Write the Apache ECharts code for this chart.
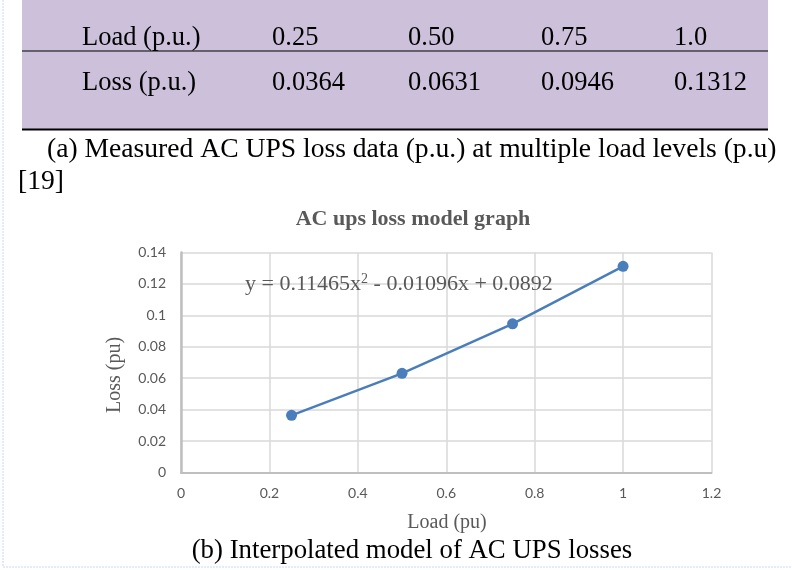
<!DOCTYPE html>
<html>
<head>
<meta charset="utf-8">
<script src="https://cdn.jsdelivr.net/npm/echarts@6/dist/echarts.min.js"></script>
<style>
html,body{margin:0;padding:0;background:#fff;}
#main{width:792px;height:570px;}
</style>
</head>
<body>
<div id="main"></div>
<script>
// ---- data ----
const loadLevels = [0.25, 0.50, 0.75, 1.0];
const lossValues = [0.0364, 0.0631, 0.0946, 0.1312];
const loadLabels = ['0.25', '0.50', '0.75', '1.0'];
const lossLabels = ['0.0364', '0.0631', '0.0946', '0.1312'];
const rowHeaders = ['Load (p.u.)', 'Loss (p.u.)'];
const xTicks = { min: 0, max: 1.2, interval: 0.2 };
const yTicks = { min: 0, max: 0.14, interval: 0.02 };
const chartTitle = 'AC ups loss model graph';
const equationParts = ['y = 0.11465x', '2', ' - 0.01096x + 0.0892'];
const captionA1 = '(a) Measured AC UPS loss data (p.u.) at multiple load levels (p.u)';
const captionA2 = '[19]';
const captionB = '(b) Interpolated model of AC UPS losses';
const xName = 'Load (pu)';
const yName = 'Loss (pu)';

const serif = '"Liberation Serif", "Times New Roman", serif';
const sans = 'Lato, "Liberation Sans", sans-serif';
const gray = '#595959';

const chart = echarts.init(document.getElementById('main'), null, {renderer: 'canvas'});

const colX = [272, 408, 541, 674];
const tf = '26.5px ' + serif;
const graphics = [];
// outer light frame
graphics.push({type:'line', shape:{x1:3,y1:0,x2:3,y2:567}, style:{stroke:'#c6d9f0', lineWidth:1, lineDash:[2,1]}, silent:true});
graphics.push({type:'line', shape:{x1:3,y1:567,x2:792,y2:567}, style:{stroke:'#c6d9f0', lineWidth:1, lineDash:[2,1]}, silent:true});
// table background
graphics.push({type:'rect', shape:{x:22,y:0,width:746,height:129}, style:{fill:'#ccc0da'}, silent:true, z:0});
graphics.push({type:'line', shape:{x1:22,y1:51,x2:768,y2:51}, style:{stroke:'#000', lineWidth:1}, silent:true});
graphics.push({type:'line', shape:{x1:22,y1:129.5,x2:768,y2:129.5}, style:{stroke:'#000', lineWidth:2}, silent:true});
const rowY = [38.5, 83.5];
graphics.push({type:'text', x:82, y:rowY[0], style:{text:rowHeaders[0], font:tf, fill:'#000', textVerticalAlign:'middle'}});
graphics.push({type:'text', x:82, y:rowY[1], style:{text:rowHeaders[1], font:tf, fill:'#000', textVerticalAlign:'middle'}});
loadLabels.forEach((t,i)=>graphics.push({type:'text', x:colX[i], y:rowY[0], style:{text:t, font:tf, fill:'#000', textVerticalAlign:'middle'}}));
lossLabels.forEach((t,i)=>graphics.push({type:'text', x:colX[i], y:rowY[1], style:{text:t, font:tf, fill:'#000', textVerticalAlign:'middle'}}));
// captions
graphics.push({type:'text', x:47, y:149.5, style:{text:captionA1, font:'27.6px '+serif, fill:'#000', textVerticalAlign:'middle'}});
graphics.push({type:'text', x:18, y:182, style:{text:captionA2, font:'27.6px '+serif, fill:'#000', textVerticalAlign:'middle'}});
graphics.push({type:'text', x:412, y:551, style:{text:captionB, font:'26.8px '+serif, fill:'#000', textAlign:'center', textVerticalAlign:'middle'}});
// chart title
graphics.push({type:'text', x:413, y:219, style:{text:chartTitle, font:'bold 22px '+serif, fill:gray, textAlign:'center', textVerticalAlign:'middle'}});
// equation
graphics.push({type:'text', x:245, y:284, z:10, style:{
  text:'{a|'+equationParts[0]+'}{s|'+equationParts[1]+'}{a|'+equationParts[2]+'}',
  textVerticalAlign:'middle',
  rich:{
    a:{font:'22px '+serif, fill:gray, verticalAlign:'middle'},
    s:{font:'14px '+serif, fill:gray, verticalAlign:'top', padding:[0,0,10,0]}
  }
}});
// y axis name
graphics.push({type:'text', x:115, y:375, rotation:Math.PI/2, style:{text:yName, font:'20px '+serif, fill:gray, textAlign:'center', textVerticalAlign:'middle'}});
// x axis name
graphics.push({type:'text', x:447, y:523, style:{text:xName, font:'20px '+serif, fill:gray, textAlign:'center', textVerticalAlign:'middle'}});

const option = {
  animation: false,
  backgroundColor: '#fff',
  grid: {left:181, right:80.5, top:252.5, bottom:97.5, containLabel:false},
  xAxis: {
    type:'value', min:xTicks.min, max:xTicks.max, interval:xTicks.interval,
    axisLine:{show:true, lineStyle:{color:'#bfbfbf', width:2}},
    axisTick:{show:false},
    axisLabel:{color:gray, fontFamily:sans, fontSize:14, margin:14},
    splitLine:{show:true, lineStyle:{color:'#d9d9d9', width:1.5}}
  },
  yAxis: {
    type:'value', min:yTicks.min, max:yTicks.max, interval:yTicks.interval,
    axisLine:{show:true, lineStyle:{color:'#bfbfbf', width:2.5}},
    axisTick:{show:false},
    axisLabel:{color:gray, fontFamily:sans, fontSize:14, margin:15},
    splitLine:{show:true, lineStyle:{color:'#d9d9d9', width:1.5}}
  },
  series: [{
    type:'line',
    data: loadLevels.map((x,i)=>[x, lossValues[i]]),
    symbol:'circle', symbolSize:11,
    lineStyle:{color:'#4a7ebb', width:2.5},
    itemStyle:{color:'#4a7ebb'},
    z:5
  }],
  graphic: graphics
};
chart.setOption(option);
</script>
</body>
</html>
